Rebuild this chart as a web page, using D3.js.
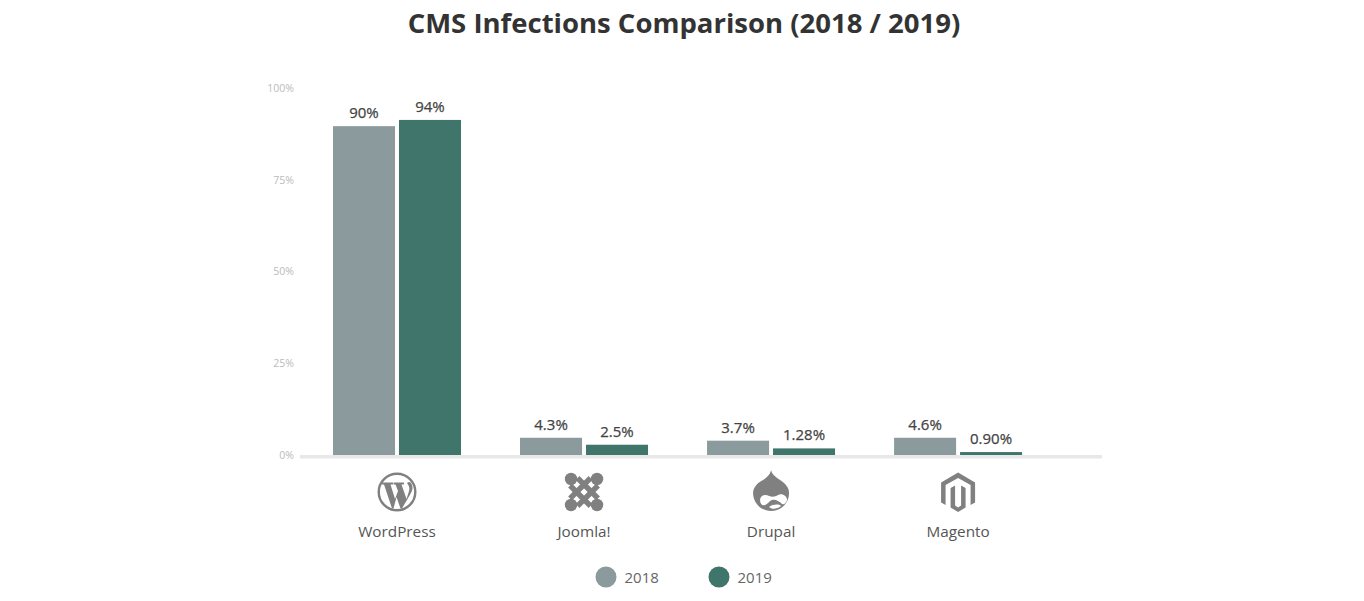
<!DOCTYPE html>
<html>
<head>
<meta charset="utf-8">
<script src="https://cdn.jsdelivr.net/npm/d3@7"></script>
<style>
  html, body { margin: 0; background: #fff; }
  svg { display: block; font-family: "Open Sans", sans-serif; }
</style>
</head>
<body>
<svg id="chart" width="1364" height="601"></svg>
<script>
var categories = ['WordPress', 'Joomla!', 'Drupal', 'Magento'];
var years = ['2018', '2019'];
// bar heights as drawn in the picture (the printed labels do not always agree with them)
var heights2018 = [89.6, 4.7, 3.9, 4.7];
var heights2019 = [91.3, 2.8, 1.8, 0.8];
var labels2018 = ['90%', '4.3%', '3.7%', '4.6%'];
var labels2019 = ['94%', '2.5%', '1.28%', '0.90%'];
var tickValues = [0, 25, 50, 75, 100];
var colors = ['#8a9a9d', '#40756b'];

var svg = d3.select('#chart');

var x = d3.scaleBand().domain(categories).range([303.5, 1051.6]);
var xInner = d3.scaleBand().domain(years).range([29.5, 157.5]).paddingInner(0.06);
var y = d3.scaleLinear().domain([0, 100]).range([455, 88]);

svg.append('text')
    .attr('x', 684).attr('y', 32.5)
    .attr('text-anchor', 'middle')
    .attr('font-size', 27.5).attr('font-weight', 700)
    .attr('fill', '#333')
    .text('CMS Infections Comparison (2018 / 2019)');

// y axis
var yAxis = svg.append('g')
    .attr('transform', 'translate(294,0)')
    .call(d3.axisLeft(y).tickValues(tickValues).tickSize(0).tickPadding(0).tickFormat(function (d) { return d + '%'; }));
yAxis.select('.domain').remove();
yAxis.selectAll('text')
    .attr('font-family', '"Open Sans", sans-serif')
    .attr('font-size', 10.5)
    .attr('fill', '#bbbbbb');

// baseline
svg.append('rect')
    .attr('x', 300).attr('y', y(0))
    .attr('width', 802).attr('height', 3.5)
    .attr('fill', '#e8e8e8');

var series = [
    { year: '2018', heights: heights2018, labels: labels2018, color: colors[0] },
    { year: '2019', heights: heights2019, labels: labels2019, color: colors[1] }
];

series.forEach(function (s) {
    var rows = categories.map(function (c, i) {
        return { cat: c, h: s.heights[i], label: s.labels[i] };
    });
    svg.append('g').selectAll('rect').data(rows).join('rect')
        .attr('x', function (d) { return x(d.cat) + xInner(s.year); })
        .attr('y', function (d) { return y(d.h); })
        .attr('width', xInner.bandwidth())
        .attr('height', function (d) { return y(0) - y(d.h); })
        .attr('fill', s.color);
    svg.append('g').selectAll('text').data(rows).join('text')
        .attr('x', function (d) { return x(d.cat) + xInner(s.year) + xInner.bandwidth() / 2; })
        .attr('y', function (d) { return y(d.h) - 8; })
        .attr('text-anchor', 'middle')
        .attr('font-size', 15).attr('font-weight', 500)
        .attr('stroke', '#444').attr('stroke-width', 0.25)
        .attr('fill', '#444')
        .text(function (d) { return d.label; });
});

// category names
svg.append('g').selectAll('text').data(categories).join('text')
    .attr('x', function (d) { return x(d) + x.bandwidth() / 2; })
    .attr('y', 537)
    .attr('text-anchor', 'middle')
    .attr('font-size', 15.3)
    .attr('fill', '#555')
    .text(function (d) { return d; });

// logos
var iconGrey = '#808080';
var icons = svg.selectAll('g.icon').data(categories).join('g')
    .attr('class', 'icon')
    .attr('transform', function (d) { return 'translate(' + (x(d) + x.bandwidth() / 2) + ',492)'; });

function drawWordPress(g) {
    g.append('circle').attr('r', 18.3).attr('fill', 'none').attr('stroke', iconGrey).attr('stroke-width', 2.4);
    g.append('path').attr('fill', iconGrey)
        .attr('d', 'M-15,-9.5 H-4 V-7.5 H-6.5 L-2,7 L1,-1 L-1.5,-7.5 H-3.5 V-9.5 H7 V-7.5 H4.5 L9.5,7 L12,-1 C13,-4 12,-6 10,-9 C13,-12 15.5,-8 15.5,-4 C15.5,-1 13,3 5,16.5 H3.5 L-0.5,5 L-3.5,16.5 H-5 L-13,-7.5 H-15 Z');
}

function drawJoomla(g) {
    var corners = [[-13, -13], [13, -13], [-13, 13], [13, 13]];
    var bars = [[-14, -6.5, 6.5, 14], [-6.5, -14, 14, 6.5], [14, -6.5, -6.5, 14], [6.5, -14, -14, 6.5]];
    g.selectAll('line').data(bars).join('line')
        .attr('x1', function (d) { return d[0]; }).attr('y1', function (d) { return d[1]; })
        .attr('x2', function (d) { return d[2]; }).attr('y2', function (d) { return d[3]; })
        .attr('stroke', iconGrey).attr('stroke-width', 5.4);
    g.selectAll('circle').data(corners).join('circle')
        .attr('cx', function (d) { return d[0]; }).attr('cy', function (d) { return d[1]; })
        .attr('r', 6.2).attr('fill', iconGrey);
}

function drawDrupal(g) {
    g.append('path').attr('fill', iconGrey)
        .attr('d', 'M0,-22 C1,-17 5,-15 9,-12 C15,-8 18,-4 18,1 C18,11 10,19 0,19 C-10,19 -18,11 -18,1 C-18,-4 -14,-9 -8,-12 C-4,-15 -1,-17 0,-22 Z');
    g.append('path').attr('fill', '#fff')
        .attr('d', 'M-11,8 C-11,3 -6,2 -2,4 C1,5 4,5 7,3 C11,1 16,4 16,8 C15,11 13,13 11,12 C8,9 4,7 1,8 C-1,8 -3,12 -6,13 C-9,14 -11,12 -11,8 Z');
    g.append('path').attr('fill', '#fff')
        .attr('d', 'M-2,15 C2,12 8,12 10,14 C6,17 1,18 -2,15 Z');
}

function drawMagento(g) {
    g.append('path').attr('fill', iconGrey)
        .attr('d', 'M0,-19.5 L17,-9.5 L17,10.5 L12.5,13 L12.5,-7 L0,-14 L-12.5,-7 L-12.5,13 L-17,10.5 L-17,-9.5 Z');
    g.append('path').attr('fill', iconGrey)
        .attr('d', 'M-7.5,-4 L-3,-6.5 L-3,13.5 L0,15.5 L3,13.5 L3,-6.5 L7.5,-4 L7.5,15.5 L0,20 L-7.5,15.5 Z');
}

var iconDrawers = [drawWordPress, drawJoomla, drawDrupal, drawMagento];
icons.each(function (d, i) { iconDrawers[i](d3.select(this)); });

// legend
var legendX = d3.scaleOrdinal().domain(years).range([606, 719]);
var legend = svg.selectAll('g.legend').data(years).join('g')
    .attr('class', 'legend')
    .attr('transform', function (d) { return 'translate(' + legendX(d) + ',577)'; });
legend.append('circle').attr('r', 10.5).attr('fill', function (d, i) { return colors[i]; });
legend.append('text')
    .attr('x', 18.5).attr('y', 5.5)
    .attr('font-size', 15)
    .attr('fill', '#666')
    .text(function (d) { return d; });
</script>
</body>
</html>
